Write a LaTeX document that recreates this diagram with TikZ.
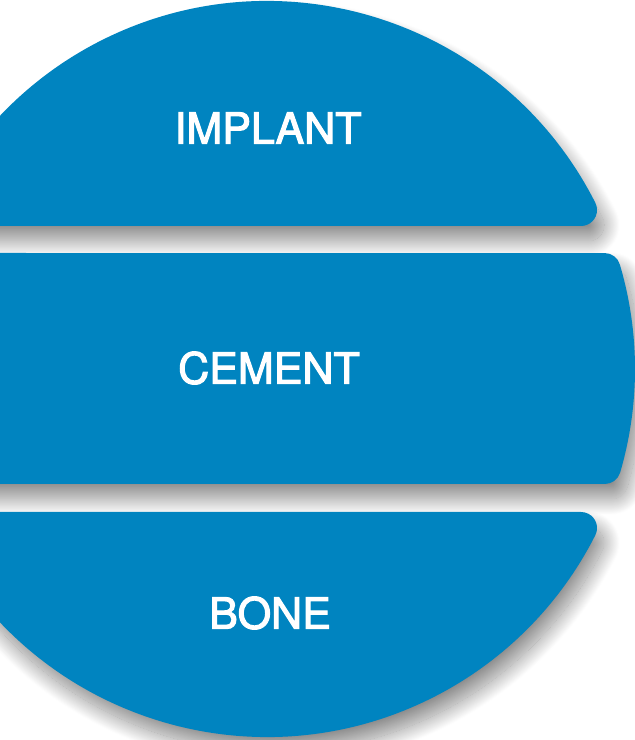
\documentclass[tikz,border=0pt]{standalone}
\usepackage{fontspec}
\setmainfont{TeX Gyre Heros}
\newfontfamily\labelfont[FakeBold=2.5]{TeX Gyre Heros}
\usetikzlibrary{shadows.blur}
\definecolor{bandblue}{HTML}{0084C0}
\tikzset{
  band/.style={fill=bandblue, draw=none,
    blur shadow={shadow xshift=7pt, shadow yshift=-15pt, shadow blur radius=16pt, shadow opacity=45, shadow blur steps=40}},
  label/.style={text=white, font=\labelfont\fontsize{43}{43}\selectfont, inner sep=0pt, anchor=center}
}
\begin{document}
\begin{tikzpicture}[x=1pt,y=1pt]
\useasboundingbox (0,0) rectangle (635,740);
\clip (0,0) rectangle (635,740);
\def\Cx{267}\def\Cy{371}\def\R{368}\def\r{16}
\newcommand{\fil}[2]{%
  \pgfmathsetmacro{\tmpx}{\Cx+10*sqrt(((\R-\r)/10)^2-((#2-\Cy)/10)^2)}%
  \pgfmathsetmacro{\tmpa}{atan2(#2-\Cy,\tmpx-\Cx)}%
  \expandafter\let\csname fx#1\endcsname\tmpx
  \expandafter\let\csname fa#1\endcsname\tmpa
  \pgfmathsetmacro{\tmpl}{2*\Cx-\tmpx}%
  \expandafter\let\csname fl#1\endcsname\tmpl}
% top band: bottom edge at 514
\fil{A}{514+\r}
% middle band: bottom edge 256, top edge 487
\fil{B}{256+\r}
\fil{C}{487-\r}
% bottom band: top edge 228
\fil{D}{228-\r}
\pgfmathsetmacro{\faAl}{180-\faA}
\pgfmathsetmacro{\faBl}{180-\faB}
\pgfmathsetmacro{\faCl}{180-\faC}
\pgfmathsetmacro{\faDl}{180-\faD}
\pgfmathsetmacro{\faDr}{360+\faD}

\path[band] (\flA,514) -- (\fxA,514)
  arc[start angle=-90, end angle=\faA, radius=\r]
  arc[start angle=\faA, end angle=\faAl, radius=\R]
  arc[start angle=\faAl, end angle=270, radius=\r] -- cycle;

\path[band] (\flB,256) -- (\fxB,256)
  arc[start angle=-90, end angle=\faB, radius=\r]
  arc[start angle=\faB, end angle=\faC, radius=\R]
  arc[start angle=\faC, end angle=90, radius=\r]
  -- (\flC,487)
  arc[start angle=90, end angle=\faCl, radius=\r]
  arc[start angle=\faCl, end angle=\faBl, radius=\R]
  arc[start angle=\faBl, end angle=270, radius=\r] -- cycle;

\path[band] (\fxD,228) -- (\flD,228)
  arc[start angle=90, end angle=\faDl, radius=\r]
  arc[start angle=\faDl, end angle=\faDr, radius=\R]
  arc[start angle=\faDr, end angle=450, radius=\r] -- cycle;

\node[label] (implant) at (268,612) {IMPLANT};
\node[label] (cement) at (269,372) {CEMENT};
\node[label] (bone) at (270,127) {BONE};
\end{tikzpicture}
\end{document}
